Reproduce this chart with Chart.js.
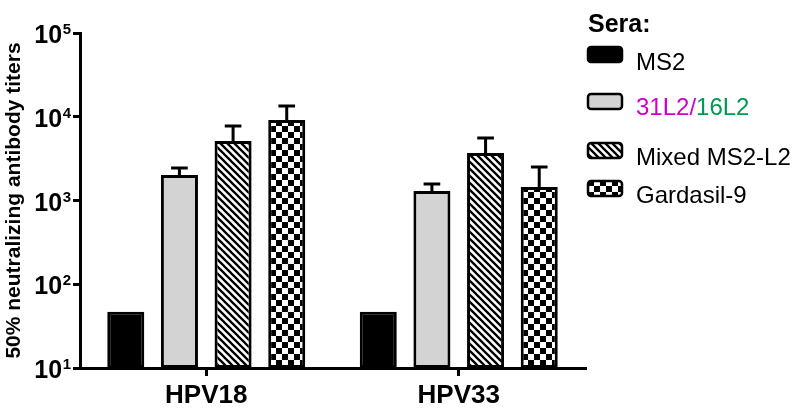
<!DOCTYPE html>
<html>
<head>
<meta charset="utf-8">
<script src="https://cdn.jsdelivr.net/npm/chart.js@4.4.1/dist/chart.umd.min.js"></script>
<style>
  html, body { margin: 0; padding: 0; background: #fff; }
  #wrap { width: 800px; height: 419px; }
</style>
</head>
<body>
<div id="wrap"><canvas id="chart" width="800" height="419"></canvas></div>
<script>
const categories = ['HPV18', 'HPV33'];
const seriesNames = ['MS2', '31L2/16L2', 'Mixed MS2-L2', 'Gardasil-9'];

const ms2 = [47, 47];
const l2 = [2010, 1300];
const l2Err = [430, 270];
const mixed = [5130, 3690];
const mixedErr = [2630, 1880];
const gardasil = [9140, 1450];
const gardasilErr = [4260, 1060];

const yTicks = [10, 100, 1000, 10000, 100000];

const FONT = '"Liberation Sans", Arial, sans-serif';

function hatchPattern() {
  let c = document.createElement('canvas');
  c.width = 7; c.height = 7;
  let g = c.getContext('2d');
  g.fillStyle = '#fff';
  g.fillRect(0, 0, 7, 7);
  g.strokeStyle = '#000';
  g.lineWidth = 2.3;
  g.beginPath();
  g.moveTo(-1, -1); g.lineTo(8, 8);
  g.moveTo(-1, 6); g.lineTo(1, 8);
  g.moveTo(6, -1); g.lineTo(8, 1);
  g.stroke();
  return g.createPattern(c, 'repeat');
}

function checkerPattern() {
  let c = document.createElement('canvas');
  c.width = 12; c.height = 12;
  let g = c.getContext('2d');
  g.fillStyle = '#fff';
  g.fillRect(0, 0, 12, 12);
  g.fillStyle = '#000';
  g.fillRect(0, 0, 6, 6);
  g.fillRect(6, 6, 6, 6);
  return g.createPattern(c, 'repeat');
}

const fills = ['#000000', '#d3d3d3', hatchPattern(), checkerPattern()];

// error bars (upper only)
const errorBars = {
  id: 'errorBars',
  afterDatasetsDraw(chart) {
    let ctx = chart.ctx;
    let y = chart.scales.y;
    ctx.save();
    ctx.strokeStyle = '#000';
    ctx.lineWidth = 3;
    chart.data.datasets.forEach((ds, i) => {
      if (!ds.errors) return;
      chart.getDatasetMeta(i).data.forEach((bar, j) => {
        let top = y.getPixelForValue(ds.data[j] + ds.errors[j]);
        let cap = bar.width * 0.45;
        ctx.beginPath();
        ctx.moveTo(bar.x, bar.y);
        ctx.lineTo(bar.x, top);
        ctx.moveTo(bar.x - cap / 2, top);
        ctx.lineTo(bar.x + cap / 2, top);
        ctx.stroke();
      });
    });
    ctx.restore();
  }
};

// y tick labels as 10 with superscript exponent
const powerLabels = {
  id: 'powerLabels',
  afterDraw(chart) {
    let ctx = chart.ctx;
    let y = chart.scales.y;
    ctx.save();
    ctx.fillStyle = '#000';
    ctx.textBaseline = 'alphabetic';
    yTicks.forEach(v => {
      let py = y.getPixelForValue(v);
      let exp = String(Math.round(Math.log10(v)));
      let right = y.right - 9;
      ctx.font = 'bold 15px ' + FONT;
      let we = ctx.measureText(exp).width;
      ctx.textAlign = 'left';
      ctx.fillText(exp, right - we, py + 1);
      ctx.font = 'bold 25px ' + FONT;
      ctx.textAlign = 'right';
      ctx.fillText('10', right - we - 0.5, py + 10);
    });
    ctx.restore();
  }
};

// legend on the right
const seraLegend = {
  id: 'seraLegend',
  afterDraw(chart) {
    let ctx = chart.ctx;
    ctx.save();
    ctx.fillStyle = '#000';
    ctx.textAlign = 'left';
    ctx.textBaseline = 'alphabetic';
    ctx.font = 'bold 25px ' + FONT;
    ctx.fillText('Sera:', 588, 32);

    let boxTops = [47, 94, 143, 181];
    let textBase = [70, 115, 165, 203];
    seriesNames.forEach((name, i) => {
      ctx.beginPath();
      ctx.roundRect(588, boxTops[i], 34, 15, 3);
      ctx.fillStyle = fills[i];
      ctx.fill();
      ctx.lineWidth = 2.5;
      ctx.strokeStyle = '#000';
      ctx.stroke();

      ctx.font = '24px ' + FONT;
      if (name === '31L2/16L2') {
        ctx.fillStyle = '#cc00cc';
        ctx.fillText('31L2/', 636, textBase[i]);
        let w = ctx.measureText('31L2/').width;
        ctx.fillStyle = '#009a55';
        ctx.fillText('16L2', 636 + w, textBase[i]);
      } else {
        ctx.fillStyle = '#000';
        ctx.fillText(name, 636, textBase[i]);
      }
    });
    ctx.restore();
  }
};

let data = {
  labels: categories,
  datasets: [
    { label: seriesNames[0], data: ms2 },
    { label: seriesNames[1], data: l2, errors: l2Err },
    { label: seriesNames[2], data: mixed, errors: mixedErr },
    { label: seriesNames[3], data: gardasil, errors: gardasilErr }
  ].map((ds, i) => Object.assign(ds, {
    backgroundColor: fills[i],
    borderColor: '#000',
    borderWidth: 3,
    borderSkipped: false,
    barPercentage: 0.69,
    categoryPercentage: 0.85
  }))
};

let config = {
  type: 'bar',
  data: data,
  options: {
    responsive: false,
    animation: false,
    layout: {
      padding: { top: 33, right: 215, left: 0, bottom: 0 }
    },
    plugins: {
      legend: { display: false },
      tooltip: { enabled: false }
    },
    scales: {
      x: {
        afterFit: (s) => { s.height = 51; },
        grid: {
          display: true,
          offset: false,
          drawOnChartArea: false,
          color: '#000',
          lineWidth: 3,
          tickLength: 8
        },
        border: { color: '#000', width: 3 },
        ticks: {
          color: '#000',
          padding: 4,
          font: { family: FONT, size: 26, weight: 'bold' }
        }
      },
      y: {
        type: 'logarithmic',
        min: 10,
        max: 100000,
        afterFit: (s) => { s.width = 80; },
        afterBuildTicks: (s) => {
          s.ticks = yTicks.map(v => ({ value: v, major: true }));
        },
        grid: {
          display: true,
          drawOnChartArea: false,
          color: '#000',
          lineWidth: 3,
          tickLength: 7
        },
        border: { color: '#000', width: 3 },
        ticks: { display: false },
        title: {
          display: true,
          text: '50% neutralizing antibody titers',
          color: '#000',
          padding: { top: 2, bottom: 0 },
          font: { family: FONT, size: 21, weight: 'bold' }
        }
      }
    }
  },
  plugins: [errorBars, powerLabels, seraLegend]
};

let ctx = document.getElementById('chart').getContext('2d');
let myChart = new Chart(ctx, config);
</script>
</body>
</html>
